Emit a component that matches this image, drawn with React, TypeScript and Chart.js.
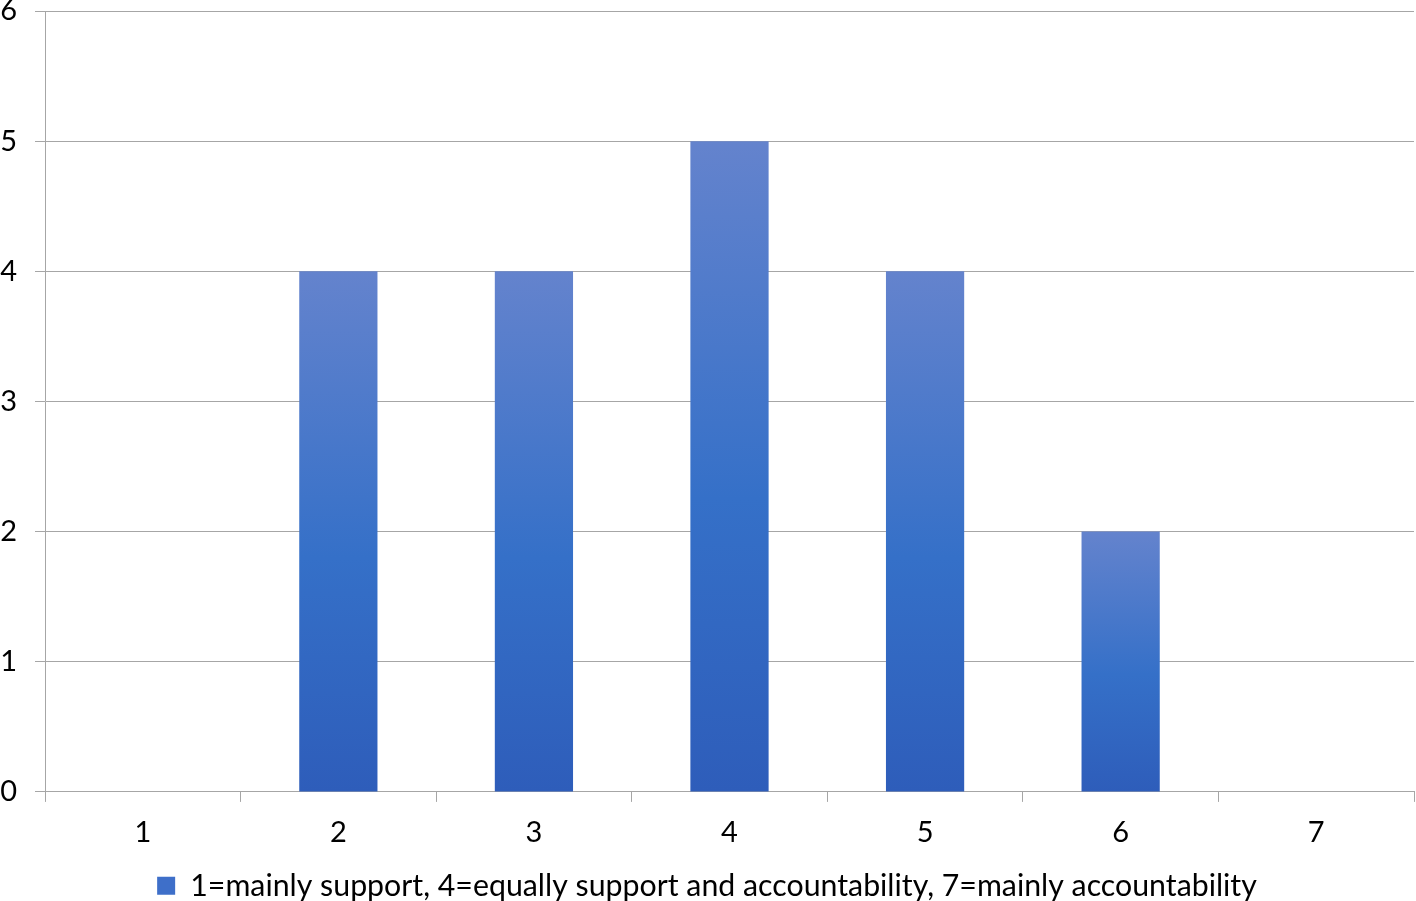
import React, { useEffect, useRef } from "react";
import { Chart, registerables } from "chart.js";

Chart.register(...registerables);

const categories = ["1", "2", "3", "4", "5", "6", "7"];
const counts = [0, 4, 4, 5, 4, 2, 0];
const seriesLabel = "1=mainly support, 4=equally support and accountability, 7=mainly accountability";
const yTicks = [0, 1, 2, 3, 4, 5, 6];

const FONT = "Lato, 'Open Sans', sans-serif";
const GRID = "#a6a6a6";

export default function App() {
  const ref = useRef<HTMLCanvasElement | null>(null);
  useEffect(() => {
    document.body.style.margin = "0";
    const ctx = ref.current!.getContext("2d")!;
    const chart = new Chart(ctx, {
      type: "bar",
      data: {
        labels: categories,
        datasets: [
          {
            label: seriesLabel,
            data: counts,
            backgroundColor: (c: any) => {
              const ch = c.chart;
              const y = ch.scales?.y;
              if (!y || c.type !== "data") return "#3e6fc9";
              const v = c.raw as number;
              const top = y.getPixelForValue(v);
              const bot = y.getPixelForValue(0);
              if (!isFinite(top) || !isFinite(bot) || top === bot) return "#3e6fc9";
              const g = ch.ctx.createLinearGradient(0, top, 0, bot);
              g.addColorStop(0, "#6483cd");
              g.addColorStop(0.55, "#3570c8");
              g.addColorStop(1, "#2e5dba");
              return g;
            },
            borderWidth: 0,
            barPercentage: 0.4,
            categoryPercentage: 1,
          },
        ],
      },
      options: {
        animation: false,
        responsive: false,
        maintainAspectRatio: false,
        layout: { padding: { left: 0, right: 2, top: 0, bottom: -10 } },
        plugins: {
          tooltip: { enabled: false },
          legend: {
            position: "bottom",
            labels: {
              color: "#000",
              font: { family: FONT, size: 30.3 },
              boxWidth: 18,
              boxHeight: 18,
              padding: 5,
              generateLabels: () => [
                {
                  text: seriesLabel,
                  fillStyle: "#3e6fc9",
                  strokeStyle: "#3e6fc9",
                  lineWidth: 0,
                  hidden: false,
                  datasetIndex: 0,
                },
              ],
            },
          },
        },
        scales: {
          x: {
            offset: true,
            afterFit: (s: any) => {
              s.height += 3;
            },
            grid: {
              offset: true,
              drawOnChartArea: false,
              color: GRID,
              tickLength: 10,
              lineWidth: 1,
            },
            border: { color: GRID, width: 1 },
            ticks: { color: "#000", font: { family: FONT, size: 29 }, padding: 13 },
          },
          y: {
            min: 0,
            max: 6,
            afterBuildTicks: (s: any) => {
              s.ticks = yTicks.map((v) => ({ value: v }));
            },
            afterFit: (s: any) => {
              s.width = 45;
              s.paddingTop = 11;
              s.paddingBottom = 0;
            },
            grid: { color: GRID, tickLength: 10, lineWidth: 1 },
            border: { color: GRID, width: 1 },
            ticks: { color: "#000", font: { family: FONT, size: 29 }, padding: 18 },
          },
        },
      },
    });
    return () => chart.destroy();
  }, []);
  return (
    <div style={{ position: "absolute", left: 0, top: 0, width: 1416, height: 901 }}>
      <canvas ref={ref} width={1416} height={901} style={{ width: 1416, height: 901 }} />
    </div>
  );
}
